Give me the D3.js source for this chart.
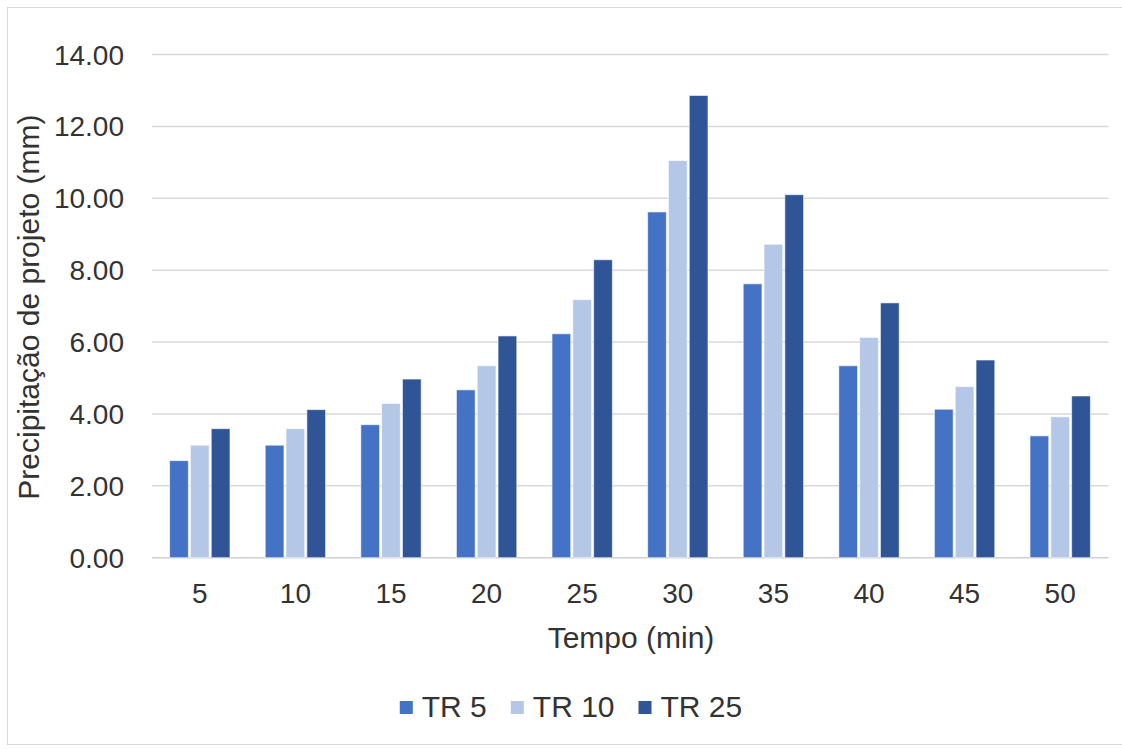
<!DOCTYPE html>
<html>
<head>
<meta charset="utf-8">
<script src="https://cdn.jsdelivr.net/npm/d3@7"></script>
<style>
  html, body { margin: 0; padding: 0; background: #fff; }
  svg { display: block; }
  text { font-family: "Liberation Sans", Arial, sans-serif; fill: #333333; }
</style>
</head>
<body>
<svg id="chart" width="1122" height="749"></svg>
<script>
const categories = ["5", "10", "15", "20", "25", "30", "35", "40", "45", "50"];
const seriesNames = ["TR 5", "TR 10", "TR 25"];
const tr5  = [2.70, 3.13, 3.70, 4.67, 6.23, 9.62, 7.62, 5.34, 4.13, 3.39];
const tr10 = [3.13, 3.59, 4.29, 5.34, 7.18, 11.05, 8.72, 6.13, 4.76, 3.92];
const tr25 = [3.59, 4.12, 4.97, 6.17, 8.29, 12.86, 10.10, 7.09, 5.50, 4.50];
const seriesColors = ["#4472C4", "#B4C7E7", "#2F5597"];
const yTicks = [0, 2, 4, 6, 8, 10, 12, 14];
const yTitle = "Precipitação de projeto (mm)";
const xTitle = "Tempo (min)";

const seriesValues = [tr5, tr10, tr25];
const svg = d3.select("#chart");

// outer chart border
svg.append("rect")
  .attr("x", 7.5).attr("y", 7.5)
  .attr("width", 1130).attr("height", 737)
  .attr("fill", "#fff").attr("stroke", "#d9d9d9").attr("stroke-width", 1);

const plotL = 152, plotR = 1108, plotT = 54.5, plotB = 557.7;

const y = d3.scaleLinear().domain([0, 14]).range([plotB, plotT]);
const x0 = d3.scaleBand().domain(categories).range([plotL, plotR])
  .paddingInner(0.325).paddingOuter(0.1625);
const x1 = d3.scaleBand().domain(seriesNames).range([0, x0.bandwidth()]).padding(0.1);

// gridlines
svg.append("g").selectAll("line").data(yTicks).join("line")
  .attr("x1", plotL).attr("x2", plotR + 0.5)
  .attr("y1", d => y(d)).attr("y2", d => y(d))
  .attr("stroke", d => d === 0 ? "#d0d0d0" : "#d9d9d9")
  .attr("stroke-width", 1.5);

// y axis tick labels
svg.append("g").selectAll("text").data(yTicks).join("text")
  .attr("x", 124).attr("y", d => y(d) + 10)
  .attr("text-anchor", "end")
  .attr("font-size", 28)
  .text(d => d3.format(".2f")(d));

// bars
const groups = svg.append("g").selectAll("g").data(categories).join("g")
  .attr("transform", c => `translate(${x0(c)},0)`);
groups.selectAll("rect")
  .data((c, i) => seriesNames.map((s, j) => ({ s, j, v: seriesValues[j][i] })))
  .join("rect")
  .attr("x", d => x1(d.s))
  .attr("y", d => y(d.v))
  .attr("width", x1.bandwidth())
  .attr("height", d => y(0) - y(d.v))
  .attr("fill", d => seriesColors[d.j])
  .attr("stroke", "#ffffff").attr("stroke-opacity", 0.6)
  .attr("stroke-width", 1);

// x tick labels
svg.append("g").selectAll("text").data(categories).join("text")
  .attr("x", c => x0(c) + x0.bandwidth() / 2)
  .attr("y", 603)
  .attr("text-anchor", "middle")
  .attr("font-size", 28)
  .text(c => c);

// axis titles
svg.append("text")
  .attr("x", 631).attr("y", 648)
  .attr("text-anchor", "middle")
  .attr("font-size", 30)
  .text(xTitle);

svg.append("text")
  .attr("transform", `translate(39,${(plotT + plotB) / 2 + 1}) rotate(-90)`)
  .attr("text-anchor", "middle")
  .attr("font-size", 30)
  .text(yTitle);

// legend
const legend = svg.append("g");
const items = legend.selectAll("g").data(seriesNames).join("g");
items.append("rect")
  .attr("width", 13).attr("height", 13)
  .attr("y", 701)
  .attr("fill", (d, i) => seriesColors[i]);
items.append("text")
  .attr("x", 22).attr("y", 717)
  .attr("font-size", 30)
  .text(d => d);
const widths = [];
items.each(function () {
  widths.push(22 + this.querySelector("text").getComputedTextLength());
});
const gap = 24;
const total = d3.sum(widths) + gap * (widths.length - 1);
let xs = 571 - total / 2;
items.attr("transform", (d, i) => {
  const t = `translate(${xs},0)`;
  xs += widths[i] + gap;
  return t;
});
</script>
</body>
</html>
